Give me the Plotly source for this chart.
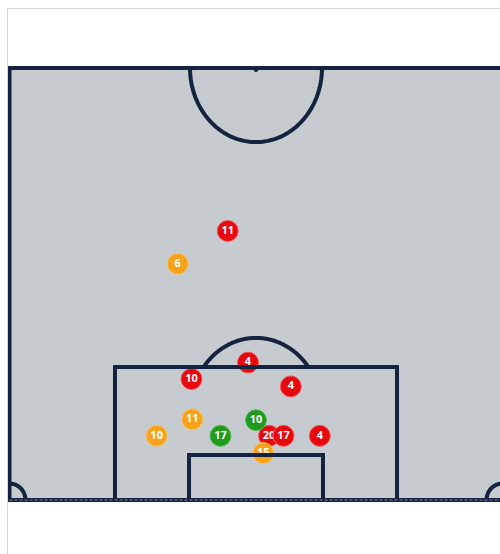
import numpy as np
import plotly.graph_objects as go

# Pitch geometry (metres): X across the pitch (0-68), Y from goal line (0) to halfway line
PITCH_W = 68.0
HALF_L = 52.5
BOX_HALF_W = 19.45
BOX_D = 16.16
SIX_HALF_W = 9.24
SIX_D = 5.47
CIRCLE_R_X = 9.1
CIRCLE_R_Y = 9.0
PEN_SPOT = 10.7
CORNER_R_X = 2.2
CORNER_R_Y = 2.0

# Shot data
shot_x = [30.1, 23.2, 35.8, 32.9, 25.1, 38.8, 25.2, 34.0, 20.3, 29.1, 37.8, 42.8, 35.0]
shot_y = [32.7, 28.7, 7.8, 16.7, 14.7, 13.8, 9.8, 9.7, 7.8, 7.8, 7.8, 7.8, 5.7]
shot_num = ["11", "6", "20", "4", "10", "4", "11", "10", "10", "17", "17", "4", "15"]
shot_kind = ["red", "orange", "red", "red", "red", "red", "orange", "green",
             "orange", "green", "red", "red", "orange"]

COLORS = {"red": "#e60a0f", "orange": "#f6a21a", "green": "#1f9a1c"}
RINGS = {"red": "#f2585c", "orange": "#fbc46a", "green": "#5cb95a"}
LINE = "#14233f"
FILL = "#c6cbd0"

SX = 7.25
SY = 432 / 52.5
X0PX = 9.5
Y0PX = 500.0
W, H = 500, 554

fig = go.Figure()

def ell_path(cx, cy, rx, ry, t0, t1, n=80):
    t = np.linspace(t0, t1, n)
    xs = cx + rx * np.cos(t)
    ys = cy + ry * np.sin(t)
    return "M " + " L ".join(f"{a:.4f},{b:.4f}" for a, b in zip(xs, ys))

shapes = []
# pitch fill + outline
shapes.append(dict(type="rect", x0=0, x1=PITCH_W, y0=0, y1=HALF_L,
                   fillcolor=FILL, line=dict(color=LINE, width=4), layer="below"))
# centre semicircle
shapes.append(dict(type="path", path=ell_path(PITCH_W / 2, HALF_L, CIRCLE_R_X, CIRCLE_R_Y, np.pi, 2 * np.pi),
                   line=dict(color=LINE, width=4)))
# centre spot
shapes.append(dict(type="circle", x0=PITCH_W / 2 - 0.3, x1=PITCH_W / 2 + 0.3,
                   y0=HALF_L - 0.5, y1=HALF_L + 0.1, fillcolor=LINE, line=dict(width=0)))
# penalty box
shapes.append(dict(type="path",
                   path=f"M {PITCH_W/2-BOX_HALF_W},0 L {PITCH_W/2-BOX_HALF_W},{BOX_D} L {PITCH_W/2+BOX_HALF_W},{BOX_D} L {PITCH_W/2+BOX_HALF_W},0",
                   line=dict(color=LINE, width=4)))
# six-yard box
shapes.append(dict(type="path",
                   path=f"M {PITCH_W/2-SIX_HALF_W},0 L {PITCH_W/2-SIX_HALF_W},{SIX_D} L {PITCH_W/2+SIX_HALF_W},{SIX_D} L {PITCH_W/2+SIX_HALF_W},0",
                   line=dict(color=LINE, width=4)))
# penalty arc (part outside the box)
dy = (BOX_D - PEN_SPOT) / CIRCLE_R_Y
ta = np.arcsin(dy)
shapes.append(dict(type="path", path=ell_path(PITCH_W / 2, PEN_SPOT, CIRCLE_R_X, CIRCLE_R_Y, ta, np.pi - ta),
                   line=dict(color=LINE, width=4)))
# corner arcs
shapes.append(dict(type="path", path=ell_path(0, 0, CORNER_R_X, CORNER_R_Y, 0, np.pi / 2, 30),
                   line=dict(color=LINE, width=4)))
shapes.append(dict(type="path", path=ell_path(PITCH_W, 0, CORNER_R_X, CORNER_R_Y, np.pi / 2, np.pi, 30),
                   line=dict(color=LINE, width=4)))
# goal line dotted overlay
shapes.append(dict(type="line", x0=0, x1=PITCH_W, y0=0, y1=0,
                   line=dict(color="#7d8797", width=1, dash="3px,2px")))
# frame of the container
shapes.append(dict(type="line", xref="paper", yref="paper", x0=7.5 / W, x1=7.5 / W, y0=0, y1=1 - 8 / H,
                   line=dict(color="#d6d6d6", width=1)))
shapes.append(dict(type="line", xref="paper", yref="paper", x0=7.5 / W, x1=1, y0=1 - 8.5 / H, y1=1 - 8.5 / H,
                   line=dict(color="#d6d6d6", width=1)))

for x, y, n, k in zip(shot_x, shot_y, shot_num, shot_kind):
    fig.add_trace(go.Scatter(
        x=[x], y=[y], mode="markers+text", text=[n],
        marker=dict(size=21, color=COLORS[k], line=dict(color=RINGS[k], width=1)),
        textfont=dict(color="white", size=11, family="Open Sans", weight="bold"),
        textposition="middle center", hoverinfo="skip", showlegend=False,
    ))

fig.update_layout(
    width=W, height=H,
    margin=dict(l=0, r=0, t=0, b=0),
    paper_bgcolor="white", plot_bgcolor="white",
    shapes=shapes, showlegend=False,
    xaxis=dict(range=[(0 - X0PX) / SX, (W - X0PX) / SX], visible=False, fixedrange=True),
    yaxis=dict(range=[(Y0PX - H) / SY, (Y0PX - 0) / SY], visible=False, fixedrange=True),
)

fig.write_html("out.html", config={"displayModeBar": False},
               post_script="document.body.style.margin='0';document.body.style.overflow='hidden';")
